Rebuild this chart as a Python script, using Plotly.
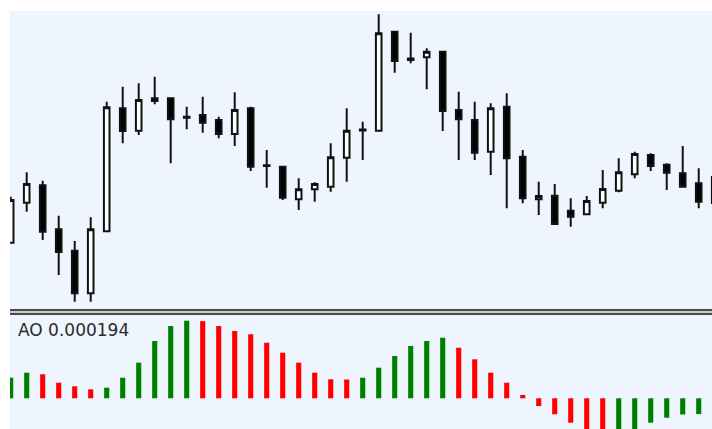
import plotly.graph_objects as go
import pandas as pd

# ---- data (price in points) ----
bar_times = pd.date_range("2023-05-10 02:00", periods=45, freq="h").strftime("%d %b %H:%M").tolist()

open_ = [67.3, 107.3, 124.7, 80.7, 59.3, 16.7, 78.7, 201.7, 179.3, 211.7,
         211.7, 193.2, 195.0, 190.0, 176.0, 201.7, 144.7, 143.3, 110.7, 120.7,
         123.3, 152.3, 179.5, 179.3, 278.3, 251.5, 252.7, 258.3, 200.0, 190.0,
         158.3, 203.3, 153.3, 110.7, 114.3, 99.3, 95.7, 107.3, 119.3, 135.7,
         155.0, 145.3, 136.7, 126.7, 133.0]
high = [113.3, 137.7, 129.3, 94.3, 69.0, 92.7, 208.3, 223.3, 226.7, 233.3,
        211.7, 203.3, 213.3, 193.3, 217.7, 203.3, 160.0, 144.0, 131.7, 127.7,
        166.7, 201.7, 188.3, 295.7, 278.3, 277.3, 261.7, 258.3, 218.3, 208.3,
        206.7, 216.7, 160.0, 128.3, 126.0, 111.7, 114.0, 140.0, 151.7, 158.3,
        156.7, 146.7, 164.0, 141.7, 135.0]
low = [67.0, 98.3, 70.0, 35.0, 8.3, 8.3, 78.7, 166.7, 175.0, 205.7,
       146.7, 180.7, 177.3, 171.7, 164.0, 139.0, 122.3, 110.0, 100.0, 108.3,
       118.3, 128.3, 150.0, 179.3, 237.3, 246.7, 220.7, 179.0, 150.0, 150.0,
       135.0, 101.7, 106.7, 95.0, 85.0, 83.3, 95.7, 101.7, 117.7, 131.7,
       139.0, 120.0, 122.7, 101.7, 105.0]
close = [110.0, 126.0, 78.3, 58.0, 16.7, 80.7, 202.7, 179.0, 210.0, 209.0,
         190.7, 192.2, 187.3, 176.0, 200.0, 143.3, 144.0, 112.3, 120.7, 126.0,
         152.7, 179.3, 180.5, 276.7, 249.0, 250.0, 258.3, 199.0, 190.7, 157.3,
         201.7, 151.7, 111.7, 114.0, 86.0, 93.3, 109.0, 121.0, 137.7, 156.0,
         144.0, 137.3, 123.3, 108.3, 107.0]

ao = [0.000206, 0.000256, 0.000240, 0.000156, 0.000120, 0.000090, 0.000106, 0.000206, 0.000356, 0.000573,
      0.000723, 0.000776, 0.000772, 0.000723, 0.000673, 0.000640, 0.000556, 0.000456, 0.000356, 0.000256,
      0.000190, 0.000188, 0.000206, 0.000306, 0.000423, 0.000523, 0.000573, 0.000606, 0.000506, 0.000390,
      0.000256, 0.000156, 0.000033, -0.000077, -0.000160, -0.000244, -0.000330, -0.000360, -0.000340, -0.000310,
      -0.000244, -0.000194, -0.000162, -0.000158, -0.000165]
ao_label = "AO 0.000194"

# ---- styling ----
W, H = 712, 429
ML, MT = 10, 11
BG = "#EEF5FE"
UP_COL, DN_COL = "#008000", "#FF0000"

def py(y_pix):  # page pixel -> paper fraction
    return (H - y_pix) / (H - MT)

def px(x_pix):
    return (x_pix - ML) / (W - ML)

ao_colors = [UP_COL] + [UP_COL if ao[i] > ao[i - 1] else DN_COL for i in range(1, len(ao))]

fig = go.Figure()
fig.add_trace(go.Candlestick(
    x=bar_times, open=open_, high=high, low=low, close=close,
    increasing=dict(fillcolor="white", line=dict(color="#111111", width=2)),
    decreasing=dict(fillcolor="black", line=dict(color="#111111", width=2)),
    whiskerwidth=0, showlegend=False, hoverinfo="skip",
    xaxis="x", yaxis="y",
))
fig.add_trace(go.Bar(
    x=bar_times, y=ao, marker=dict(color=ao_colors, line=dict(width=0)),
    width=0.32, showlegend=False, hoverinfo="skip",
    xaxis="x2", yaxis="y2",
))

x_range = [-0.044, 43.83]
fig.update_layout(
    width=W, height=H,
    margin=dict(l=ML, r=0, t=MT, b=0, pad=0),
    paper_bgcolor="white", plot_bgcolor=BG,
    boxgap=0.5,
    xaxis=dict(type="category", range=x_range, domain=[0, 1], anchor="y",
               showgrid=False, zeroline=False, showticklabels=False, ticks="",
               rangeslider=dict(visible=False), showline=False),
    xaxis2=dict(type="category", range=x_range, domain=[0, 1], anchor="y2", matches="x",
                showgrid=False, zeroline=False, showticklabels=False, ticks="", showline=False),
    yaxis=dict(domain=[py(309), 1], range=[1, 299], showgrid=False, zeroline=False,
               showticklabels=False, ticks="", showline=False),
    yaxis2=dict(domain=[0, py(315)], range=[-0.000307, 0.000833], showgrid=False, zeroline=False,
                showticklabels=False, ticks="", showline=False),
    font=dict(family="DejaVu Sans"),
)

# separator between panels
fig.add_shape(type="rect", xref="paper", yref="paper", x0=0, x1=1, y0=py(315), y1=py(309),
              fillcolor="#C8C8C8", line=dict(width=0), layer="above")
for yy in (310, 314):
    fig.add_shape(type="line", xref="paper", yref="paper", x0=0, x1=1, y0=py(yy), y1=py(yy),
                  line=dict(color="#4A4A4A", width=2), layer="above")

fig.add_annotation(text=ao_label, xref="paper", yref="paper", x=px(16), y=py(329.5),
                   xanchor="left", yanchor="middle", showarrow=False,
                   font=dict(family="DejaVu Sans", size=17, color="#2A2A2A"))

fig.write_html(
    "out.html",
    config={"displayModeBar": False, "staticPlot": True},
    post_script="document.body.style.margin='0';document.body.style.padding='0';"
                "document.body.style.overflow='hidden';"
                "document.documentElement.style.overflow='hidden';",
)
